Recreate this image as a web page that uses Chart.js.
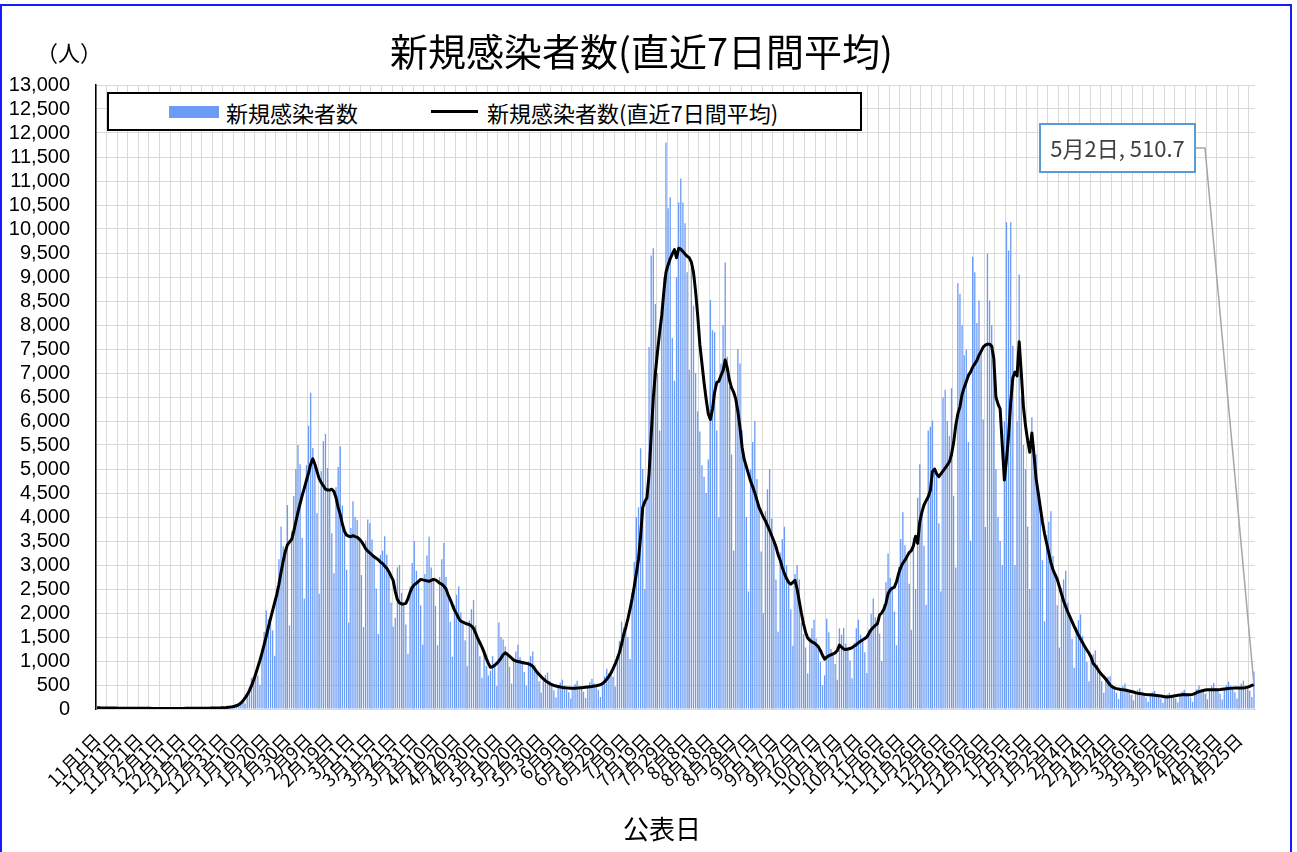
<!DOCTYPE html>
<html lang="ja">
<head>
<meta charset="utf-8">
<script src="https://cdn.jsdelivr.net/npm/chart.js@4.4.1/dist/chart.umd.min.js"></script>
<style>
  body { margin: 0; background: #fff; }
  #wrap { position: relative; width: 1297px; height: 852px; overflow: hidden; font-family: "Noto Sans CJK JP", sans-serif; }
  #frame { position: absolute; left: 0; top: 4px; width: 1292px; height: 900px; border: 2px solid #1a1aff; box-sizing: border-box; }
  #c { position: absolute; left: 0; top: 0; }
  #title { position: absolute; left: 0; width: 1283px; top: 29px; text-align: center; font-size: 38px; line-height: 42px; color: #000; }
  #unit { position: absolute; left: 36px; top: 37px; font-size: 22px; line-height: 28px; color: #000; }
  #legend { position: absolute; left: 107px; top: 92px; width: 755px; height: 39px; border: 2px solid #000; box-sizing: border-box; background: #fff; }
  #legend .sw { position: absolute; left: 60px; top: 12px; width: 50px; height: 12px; background: #6b9cf5; }
  #legend .ln { position: absolute; left: 322px; top: 16px; width: 47px; height: 3px; background: #000; }
  #legend .t { position: absolute; top: 3px; font-size: 22px; line-height: 30px; color: #000; white-space: nowrap; }
  #xtitle { position: absolute; left: 0; width: 1324px; top: 812px; text-align: center; font-size: 26px; line-height: 32px; color: #000; }
</style>
</head>
<body>
<div id="wrap">
  <div id="frame"></div>
  <canvas id="c" width="1297" height="852"></canvas>
  <div id="title">新規感染者数(直近7日間平均)</div>
  <div id="unit">（人）</div>
  <div id="legend">
    <div class="sw"></div><div class="t" style="left:117px">新規感染者数</div>
    <div class="ln"></div><div class="t" style="left:378px">新規感染者数(直近7日間平均)</div>
  </div>
  <div id="xtitle">公表日</div>
</div>
<script>
// daily new cases, 2021-11-01 .. 2023-05-02
var newCases = [
  12,25,28,30,23,21,16, 10,20,23,24,20,17,14, 8,17,19,22,17,15,12, 7,15,17,19,15,13,10,
  6,14,16,18,13,12,10, 6,13,16,18,14,13,10, 7,15,17,20,17,15,13, 8,18,20,24,20,19,16,
  10,23,28,34,30,30,27, 20,50,70,97,101,125,136, 115,315,456,648,660,730,696,
  505,1230,1610,2050,1870,1880,1640, 1110,2510,3120,3800,3390,3280,4250,
  1740,3710,4440,5000,5500,5100,3560, 2300,5080,5900,6590,5440,5100,4080,
  2400,4960,5580,5730,5020,4560,3660, 2830,4620,5040,5470,4240,3700,2900,
  1800,3770,4330,4000,3940,3540,2790, 1710,3510,3950,3870,3530,3170,2510,
  1560,3210,3300,3600,3220,2860,2220, 1720,1900,2950,3000,2420,2190,1760,
  1150,2550,3040,3500,2880,2660,2160, 1340,2810,3200,3590,2950,2700,2150,
  1330,2750,3120,3460,2750,2380,1820, 1090,2160,2380,2550,2010,1810,1430,
  890,1850,2080,2270,1740,1470,1100, 650,1250,900,700,800,1100,900,
  480,1800,1500,1450,1300,1140,880, 530,1070,1200,1340,1080,970,770,
  480,990,1100,1200,910,770,580, 340,660,710,760,580,510,390,
  240,490,550,610,490,440,350, 220,450,520,590,480,445,360,
  230,480,560,630,530,485,400, 250,560,680,840,750,750,670,
  470,1100,1420,1820,1700,1700,1500, 1040,2420,3060,4000,4200,5430,5000,
  2500,4400,7540,9450,9600,8440,7000, 5800,8400,9000,11800,10430,10660,7730,
  6840,9000,10550,11050,10550,10120,9100, 7070,9200,8400,7000,6200,5780,5080,
  4840,4500,5200,8520,7890,7850,5800, 4000,7200,8000,9300,7340,6720,5300,
  3300,6500,7500,7200,5800,5200,4000, 2450,4990,5560,6000,4790,4200,3280,
  2000,4120,4580,5000,3970,3500,2700, 1610,3260,3540,3800,3000,2640,2080,
  1320,2810,3000,2700,1800,1560,1280, 740,1500,1680,1860,1470,1300,980,
  500,700,1880,1600,1250,1150,940, 610,1680,1550,1690,1360,1250,1010,
  640,1380,1680,1860,1550,1440,1180, 750,1660,1980,2300,1910,1780,1570,
  1000,2180,2640,3240,2730,2520,2030, 1330,2960,3540,4100,3410,3180,2610,
  1650,3570,2500,4400,5100,4100,3400, 2170,5800,5880,6010,5000,4900,3870,
  2450,6490,6650,6000,5690,6680,4440, 2950,8870,8650,8000,7370,7490,5560,
  3510,9420,9100,8040,8510,7450,6030, 3790,9490,8510,8000,7300,5000,4000,
  3500,3000,6000,10140,9550,10140,7570, 3000,6000,9050,6500,5500,5000,3800,
  2500,6080,5500,5300,4400,4200,3100, 1830,3620,3900,4120,3190,2800,2160,
  1280,2520,2700,2880,2220,1920,1460, 860,1710,1850,1970,1520,1300,980,
  580,1130,1140,1220,920,770,580, 340,650,670,680,510,440,340,
  210,430,480,530,420,375,290, 180,360,400,430,350,310,240,
  150,310,350,380,310,280,220, 130,270,300,340,290,270,220,
  140,310,360,400,330,300,240, 150,340,410,490,410,385,320,
  200,420,480,540,440,400,320, 200,440,500,570,470,435,350,
  220,460,530,590,490,455,380, 250,780
];

// 7-day average as drawn
var avg7 = [
  25,24,23,22,21,21,20,20,19,19, 18,18,17,17,17,16,16,16,15,15,
  15,15,14,14,14,14,13,13,13,13, 13,13,12,12,12,12,12,13,13,13,
  13,13,14,14,14,15,15,15,16,16, 17,17,18,18,19,20,21,22,23,25,
  27,30,34,40,48,58,72,92,125,170, 230,300,380,480,600,730,870,1010,1170,1340,
  1520,1700,1880,2050,2220,2390,2600,2850,3080,3280, 3420,3480,3530,3700,3900,4100,4280,4450,4600,4760,
  4920,5100,5210,5100,4950,4800,4720,4650,4580,4560, 4560,4580,4530,4400,4200,4050,3850,3700,3620,3600,
  3590,3610,3590,3580,3540,3490,3420,3340,3290,3250, 3210,3170,3140,3110,3060,3030,2980,2930,2860,2770,
  2680,2450,2280,2210,2190,2190,2200,2300,2430,2530, 2590,2620,2660,2700,2690,2680,2670,2660,2680,2700,
  2690,2660,2620,2600,2560,2500,2380,2280,2170,2060, 1980,1890,1830,1810,1790,1770,1760,1730,1680,1580,
  1470,1380,1290,1180,1060,950,870,880,910,950, 1000,1060,1130,1170,1140,1100,1060,1020,1000,990,
  980,970,960,950,940,920,890,830,770,720, 670,630,590,560,530,510,490,480,470,460,
  450,445,440,435,432,430,432,435,440,445, 450,455,460,465,470,478,485,495,505,530,
  570,620,680,750,840,940,1050,1180,1350,1550, 1700,1880,2080,2300,2550,2830,3120,3600,4200,4320,
  4400,4900,5700,6480,7000,7450,7850,8200,8700,9100, 9250,9380,9480,9570,9400,9600,9580,9530,9480,9430,
  9400,9310,9100,8700,8200,7600,7200,6800,6450,6150, 6030,6250,6600,6800,6830,6950,7050,7270,7100,6850,
  6690,6600,6460,6200,5860,5450,5200,5050,4900,4750, 4630,4500,4350,4200,4100,4000,3920,3820,3720,3610,
  3500,3380,3220,3100,2950,2820,2720,2640,2600,2640, 2680,2500,2250,2000,1780,1600,1480,1430,1400,1380,
  1340,1300,1220,1120,1040,1080,1110,1130,1150,1170, 1220,1330,1290,1250,1240,1250,1260,1280,1310,1340,
  1380,1410,1440,1470,1500,1580,1650,1700,1740,1780, 1960,2000,2080,2200,2400,2480,2520,2540,2650,2820,
  2950,3040,3100,3180,3260,3300,3400,3600,3450,3900, 4100,4250,4340,4420,4550,4950,5000,4900,4840,4900,
  4960,5020,5080,5150,5300,5550,5900,6150,6300,6550, 6700,6820,6950,7020,7120,7190,7260,7370,7450,7540,
  7580,7600,7600,7560,7300,6500,6350,6250,5500,4770, 5200,5700,6400,6900,7020,6940,7650,7000,6300,5900,
  5600,5350,5750,5300,4800,4500,4200,3900,3650,3450, 3250,3050,2900,2800,2700,2550,2400,2250,2130,2020,
  1920,1820,1720,1630,1540,1460,1380,1300,1230,1160, 1080,950,900,840,770,720,670,620,560,500,
  460,440,425,415,405,400,395,385,375,365, 355,340,330,322,315,308,302,298,295,290,
  285,280,275,270,262,255,248,255,262,270, 278,285,292,298,300,298,296,295,305,320,
  345,360,372,385,395,400,402,402,400,400, 402,405,410,415,420,425,430,435,440,440,
  440,440,440,445,455,470,490,510.7
];

var tickLabels = ['11月1日','11月11日','11月21日','12月1日','12月11日','12月21日','12月31日',
  '1月10日','1月20日','1月30日','2月9日','2月19日','3月1日','3月11日','3月21日','3月31日',
  '4月10日','4月20日','4月30日','5月10日','5月20日','5月30日','6月9日','6月19日','6月29日',
  '7月9日','7月19日','7月29日','8月8日','8月18日','8月28日','9月7日','9月17日','9月27日',
  '10月7日','10月17日','10月27日','11月6日','11月16日','11月26日','12月6日','12月16日','12月26日',
  '1月5日','1月15日','1月25日','2月4日','2月14日','2月24日','3月6日','3月16日','3月26日',
  '4月5日','4月15日','4月25日'];

var yTicks = [0,500,1000,1500,2000,2500,3000,3500,4000,4500,5000,5500,6000,6500,
  7000,7500,8000,8500,9000,9500,10000,10500,11000,11500,12000,12500,13000];

// one category per day
var days = [];
for (var i = 0; i < newCases.length; i++) {
  var d = new Date(2021, 10, 1 + i);
  days.push((d.getMonth() + 1) + '月' + d.getDate() + '日');
}

var callout = {
  id: 'callout',
  afterDatasetsDraw: function(chart) {
    var ctx = chart.ctx;
    var pts = chart.getDatasetMeta(0).data;
    var p = pts[pts.length - 1];
    var bx = 1040, by = 124, bw = 155, bh = 48;
    ctx.save();
    ctx.strokeStyle = '#a6a6a6';
    ctx.lineWidth = 1.5;
    ctx.beginPath();
    ctx.moveTo(bx + bw, by + bh / 2);
    ctx.lineTo(bx + bw + 10, by + bh / 2);
    ctx.lineTo(p.x, p.y);
    ctx.stroke();
    ctx.fillStyle = '#fff';
    ctx.fillRect(bx, by, bw, bh);
    ctx.strokeStyle = '#5b9bd5';
    ctx.lineWidth = 2;
    ctx.strokeRect(bx, by, bw, bh);
    ctx.fillStyle = '#404040';
    ctx.font = '22px "Noto Sans CJK JP"';
    ctx.textAlign = 'center';
    ctx.textBaseline = 'middle';
    ctx.fillText(days[days.length - 1] + ', ' + avg7[avg7.length - 1], bx + bw / 2, by + bh / 2 + 1);
    ctx.restore();
  }
};

var ctx = document.getElementById('c').getContext('2d');
var chart = new Chart(ctx, {
  data: {
    labels: days,
    datasets: [{
      type: 'line',
      label: '新規感染者数(直近7日間平均)',
      data: avg7,
      borderColor: '#000',
      borderWidth: 3,
      pointRadius: 0,
      tension: 0,
      borderJoinStyle: 'round',
      order: 0
    }, {
      type: 'bar',
      label: '新規感染者数',
      data: newCases,
      backgroundColor: '#6b9cf5',
      borderWidth: 0,
      barPercentage: 0.62,
      categoryPercentage: 1.0,
      order: 1
    }]
  },
  options: {
    responsive: false,
    animation: false,
    layout: { padding: { top: 85, right: 42, left: 0, bottom: 0 } },
    plugins: {
      legend: { display: false },
      tooltip: { enabled: false },
      title: { display: false }
    },
    scales: {
      x: {
        offset: true,
        grid: {
          offset: true,
          drawTicks: false,
          color: function(c) { return c.index % 5 === 0 ? '#d9d9d9' : 'rgba(0,0,0,0)'; }
        },
        border: { color: '#d9d9d9' },
        ticks: {
          autoSkip: false,
          maxRotation: 45,
          minRotation: 45,
          padding: 20,
          color: '#000',
          font: { family: '"Noto Sans CJK JP"', size: 18 },
          callback: function(v, idx) { return idx % 10 === 0 ? tickLabels[idx / 10] : ''; }
        },
        afterFit: function(s) { s.height = 143; }
      },
      y: {
        min: 0,
        max: 13000,
        afterBuildTicks: function(s) { s.ticks = yTicks.map(function(v) { return { value: v }; }); },
        grid: { color: '#d9d9d9', drawTicks: false },
        border: { color: '#000', width: 1.5 },
        ticks: {
          autoSkip: false,
          padding: 26,
          color: '#000',
          font: { family: '"Liberation Sans", Arial, sans-serif', size: 20 },
          callback: function(v) { return v.toLocaleString('en-US'); }
        },
        afterFit: function(s) { s.width = 96; }
      }
    }
  },
  plugins: [callout]
});
</script>
</body>
</html>
